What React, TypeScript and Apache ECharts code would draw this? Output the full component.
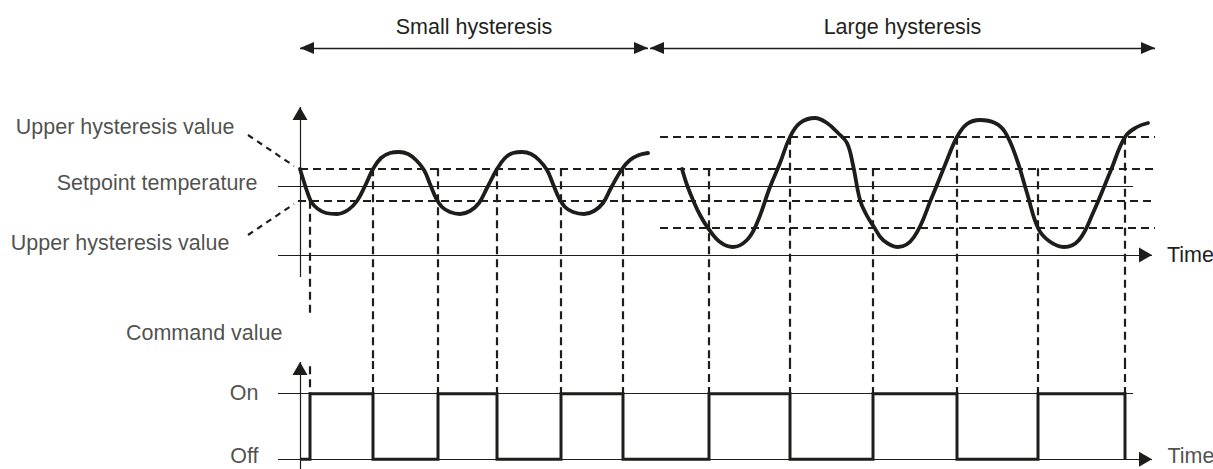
import React, { useEffect, useRef } from "react";
import * as echarts from "echarts";

// ---------------- data (time units: t = 0 at the temperature axis) ----------------
const SMALL_WAVE_T = [0, 4, 8, 12, 18, 26, 37, 48, 57, 65, 73, 81, 90, 99, 108, 116, 124, 130, 136, 142, 150, 160, 170, 179, 187, 197, 205, 213, 222, 231, 239, 247, 253, 259, 265, 273, 284, 294, 303, 311, 322, 330, 339, 348];
const SMALL_WAVE_TEMP = [86, 73, 61, 52, 46, 42, 41, 45, 54, 69, 86, 97, 102, 103, 101, 95, 85, 71, 57, 48, 43, 41, 44, 52, 67, 86, 97, 102, 103, 101, 95, 85, 71, 57, 48, 43, 41, 44, 52, 67, 86, 95, 100, 102];

const LARGE_WAVE_T = [382, 387, 393, 400, 408, 420, 433, 447, 457, 470, 480, 490, 500, 515, 527, 538, 547, 553, 560, 566, 574, 583, 598, 614, 632, 645, 657, 667, 680, 695, 705, 716, 727, 738, 749, 764, 779, 793, 811, 825, 837, 848];
const LARGE_WAVE_TEMP = [86, 70, 55, 40, 27, 13, 8, 15, 32, 68, 92, 118, 132, 137, 132, 122, 112, 90, 55, 41, 28, 15, 8, 18, 58, 90, 118, 131, 135, 132, 123, 98, 62, 27, 14, 8, 15, 42, 85, 118, 128, 132];

// temperature levels
const SETPOINT = 68.3;
const SMALL_UPPER = 86.7;
const SMALL_LOWER = 54.2;
const LARGE_UPPER = 118.3;
const LARGE_LOWER = 27.5;

// command switching instants (Off -> On -> Off ...)
const SWITCH_T = [10, 73, 138, 197, 261, 323, 409, 490, 573, 657, 738, 825];
const SWITCH_FROM_LEVEL = [SMALL_LOWER, SMALL_UPPER, SMALL_UPPER, SMALL_UPPER, SMALL_UPPER, SMALL_UPPER, SMALL_UPPER, LARGE_UPPER, SMALL_UPPER, LARGE_UPPER, SMALL_UPPER, LARGE_UPPER];
const COMMAND_INITIAL = 0; // Off
const COMMAND_LABELS = ["Off", "On"];

// texts
const SPAN_LABELS = ["Small hysteresis", "Large hysteresis"];
const SPAN_START_T = [0, 350];
const SPAN_END_T = [348, 855];
const LEFT_LABELS = ["Upper hysteresis value", "Setpoint temperature", "Upper hysteresis value", "Command value"];
const TIME_LABEL = "Time";

// ---------------- layout ----------------
const FONT = "'Liberation Sans', Arial, Helvetica, sans-serif";
const INK = "#1d1d1b";
const TEXT = "#231f20";
const FS = 21.5;

const TOP_X = [-300, 913];
const TOP_Y = [-214, 255];
const BOT_X = [-22, 856];
const BOT_Y = [-0.15, 1.5];

const LINE_START_T = -22;
const SETPOINT_END_T = 833;
const TIME_ARROW_T = 852;
const THRESHOLD_END_T = 855;
const LARGE_THRESHOLD_START_T = 360;
const TEMP_AXIS_RANGE = [-22, 148];
const CMD_AXIS_TOP = 1.485;
const SPAN_LEVEL = 207;
const GUIDE_TOP_END = [-58, -106, -106, -106, -106, -106, -106, -106, -106, -106, -106, -106];
const GUIDE_BOTTOM_START = [1.42, 1.5, 1.5, 1.5, 1.5, 1.5, 1.5, 1.5, 1.5, 1.5, 1.5, 1.5];
const LEFT_LABEL_ANCHOR = [[-65, 128], [-42, 72], [-70, 12], [-17, -78]];
const COMMAND_LABEL_ANCHOR = [[-41, -201], [-41, -138]]; // Off, On
const BOTTOM_TIME_ANCHOR = [867, -201];
const LEADERS = [[[-52, 120], [-6, 89]], [[-52, 20], [-6, 51]]];

const zip = (a: number[], b: number[]) => a.map((v, i) => [v, b[i]]);

function commandPoints() {
  let state = COMMAND_INITIAL;
  const pts: number[][] = [[0, state]];
  SWITCH_T.forEach((t) => {
    pts.push([t, state]);
    state = 1 - state;
    pts.push([t, state]);
  });
  return pts;
}

const textStyle = { fontFamily: FONT, fontSize: FS, color: TEXT };

function arrowSeries(grid: number, from: number[], to: number[], label: any, both = false) {
  const size = both ? [12, 14] : [15, 13];
  return {
    type: "line",
    xAxisIndex: grid,
    yAxisIndex: grid,
    data: [from, to],
    showSymbol: false,
    silent: true,
    lineStyle: { opacity: 0 },
    z: 5,
    markLine: {
      silent: true,
      animation: false,
      symbol: both ? ["triangle", "triangle"] : ["none", "triangle"],
      symbolSize: size,
      symbolOffset: both ? [[0, 7], [0, 7]] : [[0, 0], [0, 6.5]],
      lineStyle: { color: INK, width: both ? 1.4 : 1.2, type: "solid", opacity: 1 },
      itemStyle: { color: INK, opacity: 1 },
      emphasis: { disabled: true },
      label: label ? { show: true, ...textStyle, ...label } : { show: false },
      data: [[
        { coord: from, symbolSize: size },
        { coord: to, symbolSize: size },
      ]],
    },
  };
}

function textSeries(names: string[], anchors: number[][], position: string) {
  return {
    type: "scatter", xAxisIndex: 0, yAxisIndex: 0, silent: true, clip: false,
    symbolSize: 1, itemStyle: { color: "transparent" },
    label: { show: true, position, distance: 0, formatter: "{b}", ...textStyle },
    data: names.map((txt, i) => ({ name: txt, value: anchors[i] })),
  };
}

function buildOption() {
  const dashed = { color: INK, width: 2.2, type: [8, 5], opacity: 1 };
  const thin = { color: INK, width: 1.2, type: "solid", opacity: 1 };
  const series: any[] = [];

  // threshold dashed lines
  series.push({
    type: "lines", coordinateSystem: "cartesian2d", xAxisIndex: 0, yAxisIndex: 0, silent: true,
    lineStyle: dashed,
    data: [
      { coords: [[0, SMALL_UPPER], [THRESHOLD_END_T, SMALL_UPPER]] },
      { coords: [[-2, SMALL_LOWER], [THRESHOLD_END_T, SMALL_LOWER]] },
      { coords: [[LARGE_THRESHOLD_START_T, LARGE_UPPER], [THRESHOLD_END_T, LARGE_UPPER]] },
      { coords: [[LARGE_THRESHOLD_START_T, LARGE_LOWER], [THRESHOLD_END_T, LARGE_LOWER]] },
    ],
  });
  // leader lines
  series.push({
    type: "lines", coordinateSystem: "cartesian2d", xAxisIndex: 0, yAxisIndex: 0, silent: true,
    lineStyle: { ...dashed, type: [6, 5] },
    data: LEADERS.map((c) => ({ coords: c })),
  });
  // vertical guides (upper panel part)
  series.push({
    type: "lines", coordinateSystem: "cartesian2d", xAxisIndex: 0, yAxisIndex: 0, silent: true,
    lineStyle: dashed,
    data: SWITCH_T.map((t, i) => ({ coords: [[t, SWITCH_FROM_LEVEL[i]], [t, GUIDE_TOP_END[i]]] })),
  });
  // vertical guides (command panel part)
  series.push({
    type: "lines", coordinateSystem: "cartesian2d", xAxisIndex: 1, yAxisIndex: 1, silent: true,
    lineStyle: dashed,
    data: SWITCH_T.map((t, i) => ({ coords: [[t, GUIDE_BOTTOM_START[i]], [t, 1]] })),
  });
  // setpoint line
  series.push({
    type: "lines", coordinateSystem: "cartesian2d", xAxisIndex: 0, yAxisIndex: 0, silent: true,
    lineStyle: thin,
    data: [{ coords: [[LINE_START_T, SETPOINT], [SETPOINT_END_T, SETPOINT]] }],
  });
  // On level line
  series.push({
    type: "lines", coordinateSystem: "cartesian2d", xAxisIndex: 1, yAxisIndex: 1, silent: true,
    lineStyle: thin,
    data: [{ coords: [[LINE_START_T, 1], [SETPOINT_END_T, 1]] }],
  });

  // temperature curves
  [[SMALL_WAVE_T, SMALL_WAVE_TEMP], [LARGE_WAVE_T, LARGE_WAVE_TEMP]].forEach(([ts, ys]) => {
    series.push({
      type: "line", xAxisIndex: 0, yAxisIndex: 0, silent: true,
      data: zip(ts, ys), smooth: 0.4, showSymbol: false, z: 4,
      lineStyle: { color: INK, width: 3.8, cap: "round", join: "round" },
    });
  });

  // command square wave
  series.push({
    type: "line", xAxisIndex: 1, yAxisIndex: 1, silent: true,
    data: commandPoints(), showSymbol: false, z: 4,
    lineStyle: { color: INK, width: 3, cap: "butt", join: "miter" },
  });

  // axes with arrows
  series.push(arrowSeries(0, [0, TEMP_AXIS_RANGE[0]], [0, TEMP_AXIS_RANGE[1]], null));
  series.push(arrowSeries(0, [LINE_START_T, 0], [TIME_ARROW_T, 0], { position: "end", distance: 15, formatter: TIME_LABEL }));
  series.push(arrowSeries(1, [0, BOT_Y[0]], [0, CMD_AXIS_TOP], null));
  series.push(arrowSeries(1, [LINE_START_T, 0], [TIME_ARROW_T, 0], null));

  // hysteresis spans
  SPAN_LABELS.forEach((txt, i) => {
    series.push(arrowSeries(0, [SPAN_START_T[i], SPAN_LEVEL], [SPAN_END_T[i], SPAN_LEVEL], {
      position: "insideMiddleTop", distance: 10, formatter: txt,
    }, true));
  });

  // texts
  series.push(textSeries(LEFT_LABELS, LEFT_LABEL_ANCHOR, "left"));
  series.push(textSeries(COMMAND_LABELS, COMMAND_LABEL_ANCHOR, "left"));
  series.push(textSeries([TIME_LABEL], [BOTTOM_TIME_ANCHOR], "right"));

  return {
    animation: false,
    backgroundColor: "#ffffff",
    grid: [
      { left: 0, right: 0, top: 0, bottom: 0, containLabel: false, outerBoundsMode: "none" },
      { left: 278, right: 57, top: 361, bottom: 0, containLabel: false, outerBoundsMode: "none" },
    ],
    xAxis: [
      { type: "value", gridIndex: 0, min: TOP_X[0], max: TOP_X[1], show: false },
      { type: "value", gridIndex: 1, min: BOT_X[0], max: BOT_X[1], show: false },
    ],
    yAxis: [
      { type: "value", gridIndex: 0, min: TOP_Y[0], max: TOP_Y[1], show: false },
      { type: "value", gridIndex: 1, min: BOT_Y[0], max: BOT_Y[1], show: false },
    ],
    series,
  };
}

export default function App() {
  const ref = useRef<HTMLDivElement>(null);
  useEffect(() => {
    document.body.style.margin = "0";
    const chart = echarts.init(ref.current!, null, { renderer: "svg" });
    chart.setOption(buildOption() as any);
    return () => chart.dispose();
  }, []);
  return <div ref={ref} style={{ width: 1213, height: 469 }} />;
}
